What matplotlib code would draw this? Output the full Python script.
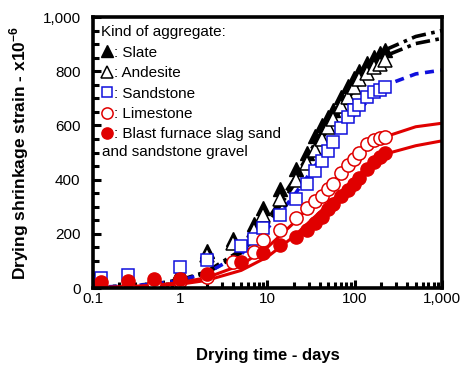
import numpy as np
import matplotlib
matplotlib.use("Agg")
import matplotlib.pyplot as plt
from matplotlib.ticker import FixedLocator, MultipleLocator, FuncFormatter

plt.rcParams['font.family'] = ['Liberation Sans', 'DejaVu Sans']
plt.rcParams['mathtext.fontset'] = 'custom'
plt.rcParams['mathtext.rm'] = 'Liberation Sans'
plt.rcParams['mathtext.bf'] = 'Liberation Sans:bold'

# measured ages (days) and drying shrinkage strain (x10^-6), nan = no point
days = [0.125, 0.25, 0.5, 1, 2, 4, 5, 7, 9, 14, 21, 28, 35, 42, 49, 56,
        70, 84, 98, 112, 140, 168, 196, 224]
slate = [10, 12, 18, 60, 135, 180, np.nan, 235, 295, 365, 440, 500, 560, 600,
         630, 655, 705, 745, 775, 800, 832, 852, 866, 878]
andesite = [8, 10, 15, 55, 120, 165, np.nan, 215, 270, 330, 400, 460, 510, 550,
            595, 625, 670, 705, 740, 770, 795, 815, 828, 840]
sandstone = [38, 48, np.nan, 76, 103, np.nan, 156, 182, 223, 268, 330, 385, 430,
             470, 505, 540, 590, 630, 655, 675, 705, 722, 732, 741]
limestone = [0, 2, 20, 25, 40, 97, np.nan, 134, 177, 214, 257, 294, 320, 340,
             365, 385, 423, 455, 475, 500, 530, 545, 552, 558]
slag = [23, 26, 33, 33, 50, np.nan, 97, np.nan, 128, 159, 189, 215, 240, 263,
        290, 310, 338, 362, 382, 405, 440, 465, 485, 500]

# fitted curves
curve_days = [0.1, 0.2, 0.5, 1, 2, 5, 10, 20, 50, 100, 200, 500, 1000]
fit_slate = [3, 6, 15, 30, 60, 140, 250, 400, 620, 760, 872, 928, 950]
fit_andesite = [3, 6, 14, 28, 55, 130, 235, 380, 590, 735, 850, 902, 921]
fit_sandstone = [3, 6, 14, 28, 55, 125, 220, 340, 520, 640, 742, 790, 804]
fit_limestone = [2, 4, 10, 20, 38, 85, 150, 240, 375, 478, 553, 595, 608]
fit_slag = [1, 3, 7, 14, 28, 65, 115, 190, 310, 405, 490, 525, 543]

red = '#e00000'
blue = '#1010dd'

fig = plt.figure(figsize=(4.65, 3.72), dpi=100)
ax = fig.add_axes([0.2, 0.2258, 0.7505, 0.7285])

ax.plot(curve_days, fit_slate, color='black', lw=2.6, ls=(0, (4, 1.5, 1, 1.5)))
ax.plot(curve_days, fit_andesite, color='black', lw=2.6, ls=(0, (4, 1.5, 1, 1.5)))
ax.plot(curve_days, fit_sandstone, color=blue, lw=2.6, ls=(0, (2.5, 1.8)))
ax.plot(curve_days, fit_limestone, color=red, lw=2.2)
ax.plot(curve_days, fit_slag, color=red, lw=2.2)

h1, = ax.plot(days, slate, ls='none', marker='^', ms=10, mfc='black', mec='black')
h2, = ax.plot(days, andesite, ls='none', marker='^', ms=10, mfc='white', mec='black', mew=1.1)
h3, = ax.plot(days, sandstone, ls='none', marker='s', ms=9, mfc='white', mec=blue, mew=1.1)
h4, = ax.plot(days, limestone, ls='none', marker='o', ms=9.5, mfc='white', mec=red, mew=1.1)
h5, = ax.plot(days, slag, ls='none', marker='o', ms=9.5, mfc=red, mec=red)

ax.set_xscale('log')
ax.set_xlim(0.1, 1000)
ax.set_ylim(0, 1000)

ax.xaxis.set_major_locator(FixedLocator([0.1, 1, 10, 100, 1000]))
ax.xaxis.set_major_formatter(FuncFormatter(lambda v, p: '{:,}'.format(v) if v < 1 else '{:,}'.format(int(round(v)))))
ax.yaxis.set_major_locator(MultipleLocator(200))
ax.yaxis.set_minor_locator(MultipleLocator(50))
ax.yaxis.set_major_formatter(FuncFormatter(lambda v, p: '{:,}'.format(int(v))))

ax.tick_params(which='both', direction='in', top=False, right=False, width=2.2, labelsize=11)
ax.tick_params(which='major', length=6)
ax.tick_params(which='minor', length=4)
ax.tick_params(axis='y', pad=9)
ax.tick_params(axis='x', pad=3)
for s in ax.spines.values():
    s.set_linewidth(2.6)

ax.set_xlabel('Drying time - days', fontsize=12, fontweight='bold', labelpad=30)
ax.set_ylabel('Drying shrinkage strain - x10$^{\\mathbf{-6}}$', fontsize=12.5, fontweight='bold', labelpad=8)

leg = ax.legend([h1, h2, h3, h4, h5],
                [': Slate', ': Andesite', ': Sandstone', ': Limestone', ': Blast furnace slag sand'],
                title='Kind of aggregate:', loc='upper left', frameon=False, fontsize=11,
                title_fontsize=11, handlelength=0.7, handletextpad=0.15, labelspacing=0.42,
                borderaxespad=0.15, borderpad=0.4, alignment='left', markerscale=0.85)
ax.text(0.026, 0.502, 'and sandstone gravel', transform=ax.transAxes, fontsize=11, va='center', ha='left')

fig.savefig('out.png', dpi=100)
